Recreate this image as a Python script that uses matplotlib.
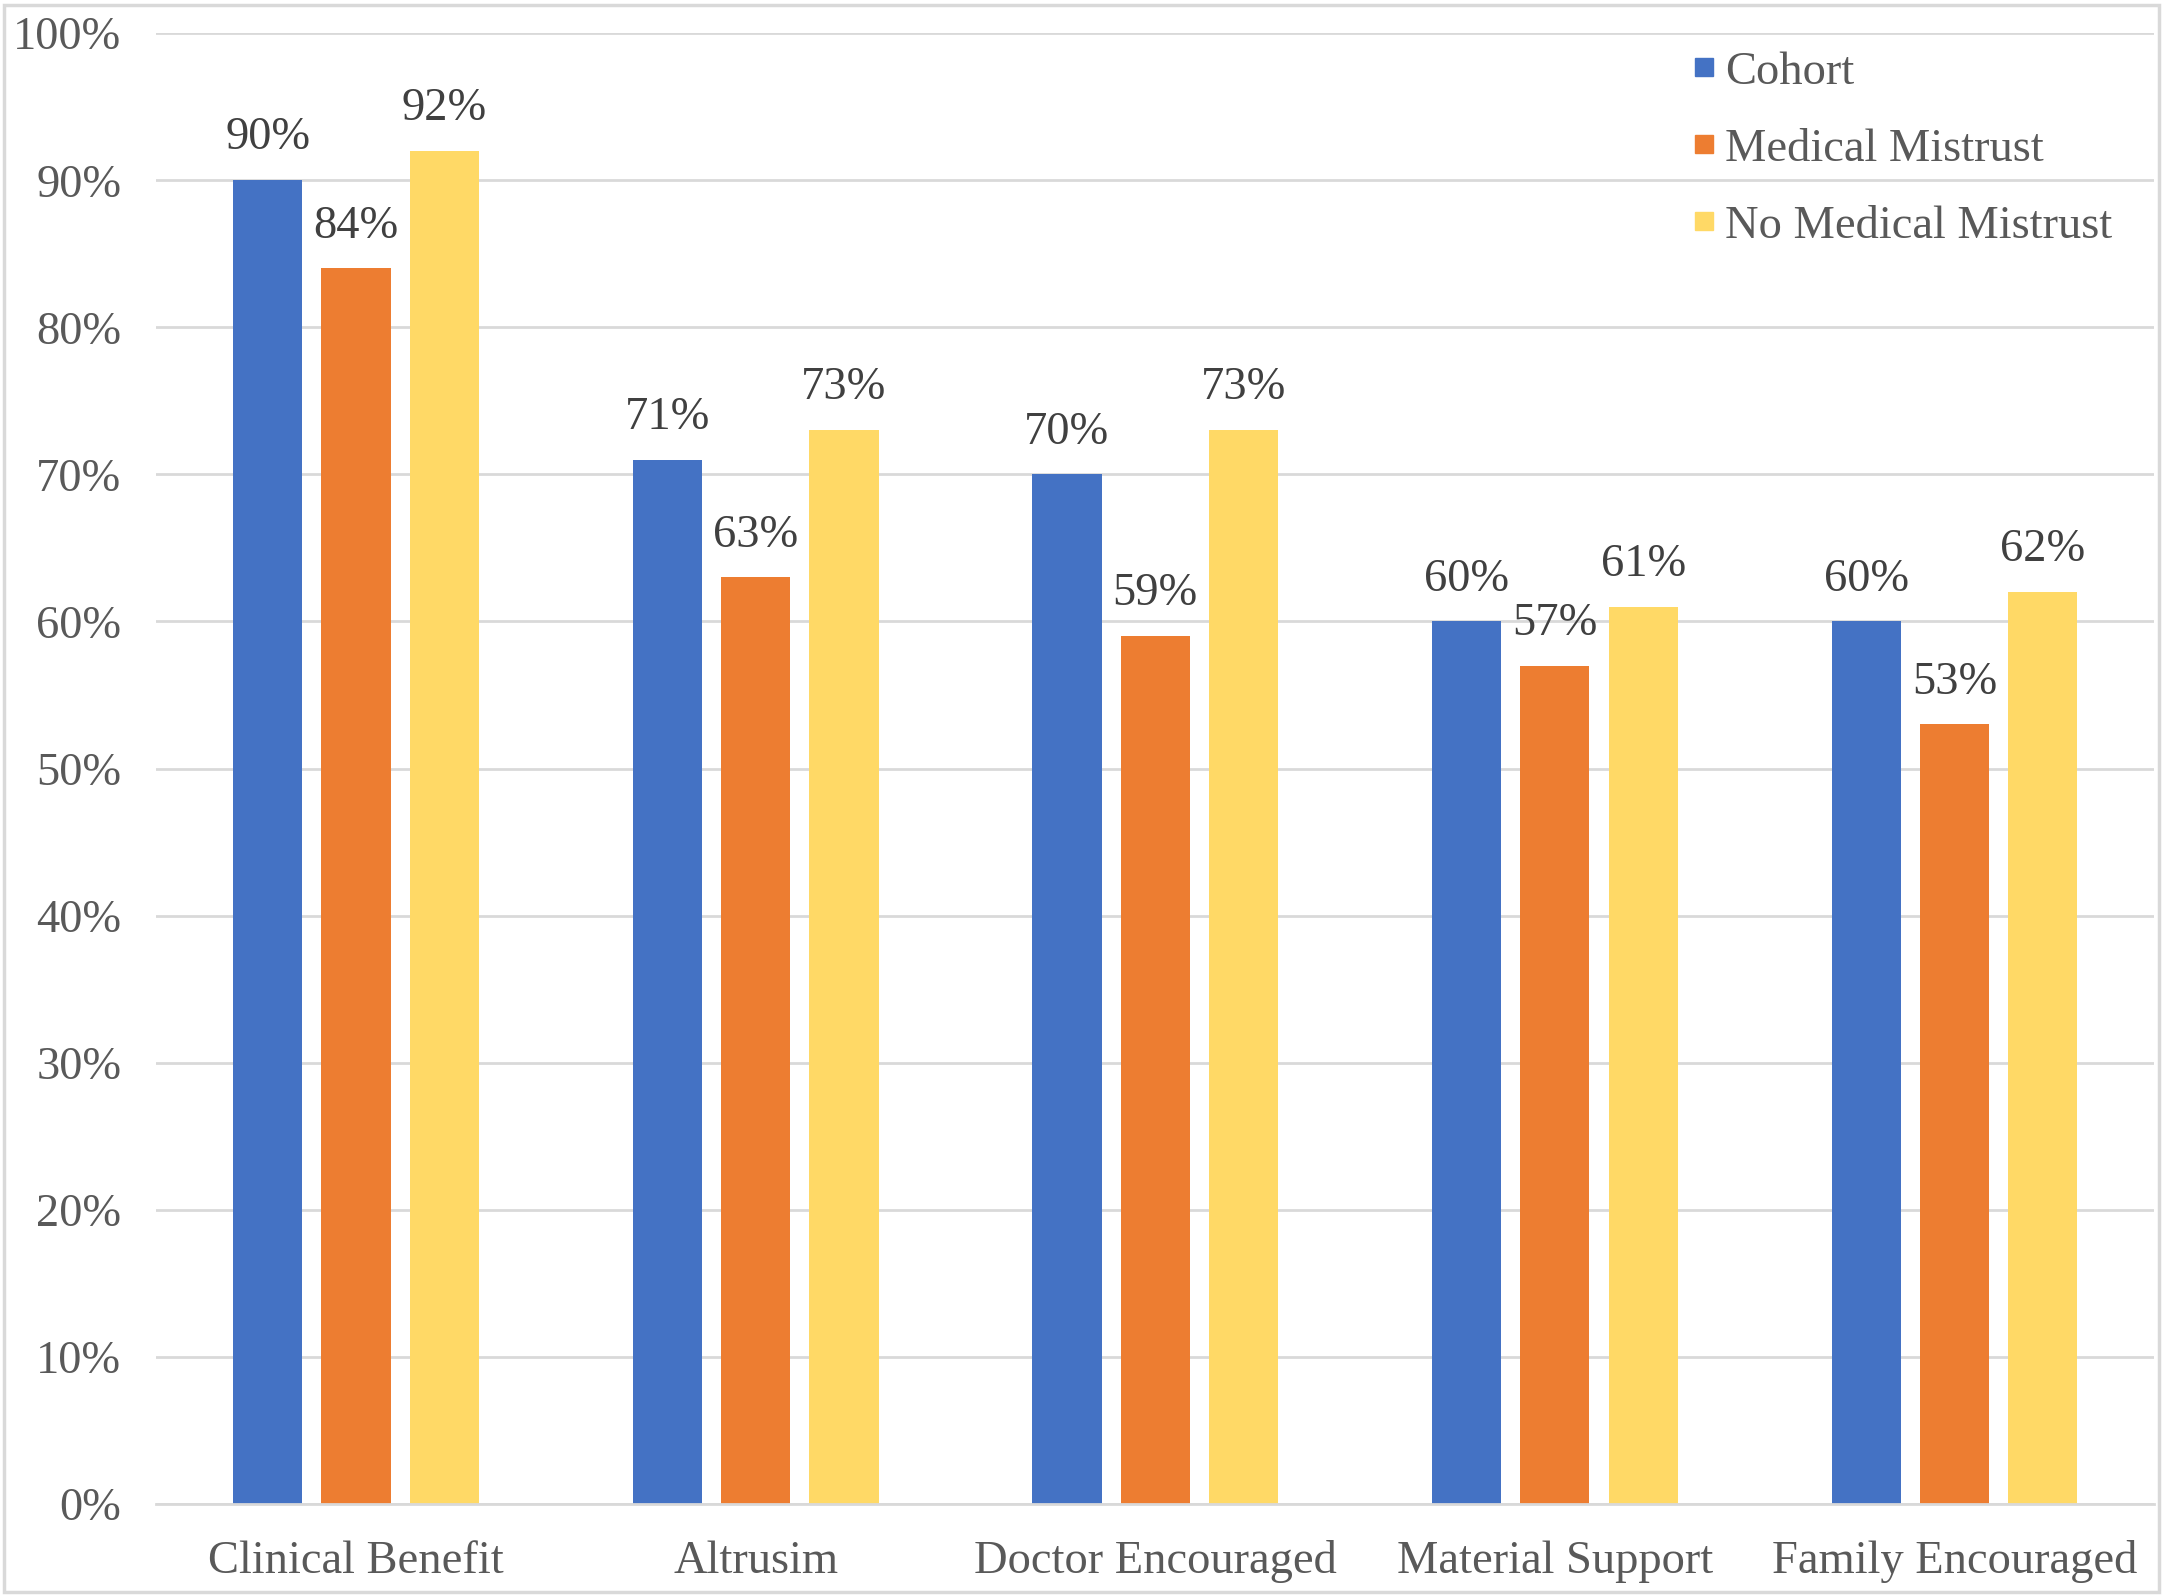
import matplotlib
matplotlib.use("Agg")
import matplotlib.pyplot as plt
from matplotlib.lines import Line2D
from matplotlib.patches import Rectangle
import numpy as np

categories = ["Clinical Benefit", "Altrusim", "Doctor Encouraged", "Material Support", "Family Encouraged"]
series_names = ["Cohort", "Medical Mistrust", "No Medical Mistrust"]
cohort = [90, 71, 70, 60, 60]
medical_mistrust = [84, 63, 59, 57, 53]
no_medical_mistrust = [92, 73, 73, 61, 62]
yticks = [0, 10, 20, 30, 40, 50, 60, 70, 80, 90, 100]
ytick_labels = ["0%", "10%", "20%", "30%", "40%", "50%", "60%", "70%", "80%", "90%", "100%"]

colors = ["#4472C4", "#ED7D31", "#FFD966"]
plt.rcParams['font.family'] = ['Liberation Serif', 'DejaVu Serif']
FS = 33.5

fig = plt.figure(figsize=(21.63, 15.95), dpi=100)
ax = fig.add_axes([0.0722, 0.0571, 0.9238, 0.9221])

x = np.arange(len(categories))
width = 0.173
step = 0.221
for i, (name, vals) in enumerate(zip(series_names, [cohort, medical_mistrust, no_medical_mistrust])):
    pos = x + (i - 1) * step
    bars = ax.bar(pos, vals, width=width, color=colors[i], zorder=3, label=name)
    for b, v in zip(bars, vals):
        ax.annotate(f"{v}%", (b.get_x() + b.get_width() / 2, v), xytext=(0, 15),
                    textcoords="offset points", ha="center", va="bottom",
                    fontsize=FS, color="#404040")

ax.set_xlim(-0.5, len(categories) - 0.5)
ax.set_ylim(0, 100)
ax.set_yticks(yticks)
ax.set_yticklabels(ytick_labels)
ax.set_xticks(x)
ax.set_xticklabels(categories)
ax.tick_params(axis='y', length=0, pad=25, labelsize=FS, labelcolor="#595959")
ax.tick_params(axis='x', length=0, pad=26, labelsize=FS, labelcolor="#595959")
ax.grid(axis='y', color="#D9D9D9", linewidth=2, zorder=0)
for s in ["top", "right", "left"]:
    ax.spines[s].set_visible(False)
ax.spines["bottom"].set_color("#D9D9D9")
ax.spines["bottom"].set_linewidth(2)
ax.spines["bottom"].set_zorder(4)

handles = [Line2D([0], [0], marker='s', linestyle='none', markersize=13.5,
                  markerfacecolor=c, markeredgecolor=c) for c in colors]
leg = fig.legend(handles, series_names, loc="upper left", bbox_to_anchor=(0.7825, 0.968),
                 frameon=False, fontsize=FS, handlelength=0.5, handletextpad=0.2,
                 labelspacing=0.74, borderpad=0, borderaxespad=0, labelcolor="#595959")

fig.patches.append(Rectangle((0.002, 0.002), 0.996, 0.995, transform=fig.transFigure,
                             fill=False, edgecolor="#D9D9D9", linewidth=2.5))

fig.savefig("out.png", dpi=100)
